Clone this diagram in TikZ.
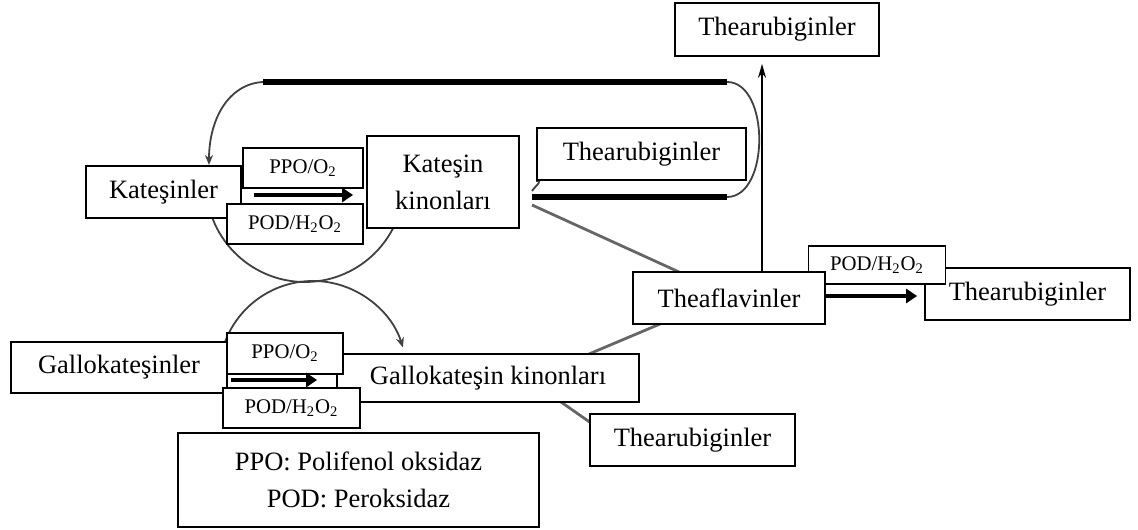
\documentclass[tikz,border=0pt]{standalone}
\usepackage{fontspec}
\setmainfont{Liberation Serif}
\usepackage{xcolor}
\usepackage{tikz}
\usetikzlibrary{arrows.meta, backgrounds}

\begin{document}
\begin{tikzpicture}[x=0.5pt, y=0.5pt,
    box/.style={draw, line width=0.9pt, fill=white, inner sep=0pt, align=center, font=\fontsize{13.25}{18.5}\selectfont},
    tag/.style={draw, line width=0.9pt, fill=white, inner sep=0pt, font=\fontsize{10.4}{12}\selectfont},
    loopline/.style={draw=black!75, line width=0.9pt},
    greyline/.style={draw=black!60, line width=1.4pt},
    fatline/.style={line width=2.6pt},
    fatarrow/.style={line width=2.4pt, -{Triangle[length=5.5pt,width=7pt]}}]
    \useasboundingbox (0,0) rectangle (1138,529);
    % Boxes
    \node[box, minimum width=102pt, minimum height=26.5pt] (topT) at (777,499.5) {Thearubiginler};
    \node[box, minimum width=77.5pt, minimum height=26pt] (kat) at (163.5,337) {Kateşinler};
    \node[tag, minimum width=68pt, minimum height=20pt] (pod1) at (295,305) {POD/H\textsubscript{2}O\textsubscript{2}};
    \node[tag, minimum width=60pt, minimum height=20pt] (ppo1) at (303,361) {PPO/O\textsubscript{2}};
    \node[box, minimum width=76pt, minimum height=46pt] (katk) at (443,347) {Kateşin\\kinonları};
    \node[box, minimum width=104.5pt, minimum height=26pt] (midT) at (641.5,375) {Thearubiginler};
    \node[box, minimum width=102.5pt, minimum height=26pt] (rightT) at (1027.5,235) {Thearubiginler};
    \node[tag, minimum width=68.5pt, minimum height=19pt] (pod3) at (877,264) {POD/H\textsubscript{2}O\textsubscript{2}};
    \node[box, minimum width=96pt, minimum height=26pt] (thf) at (729,231) {Theaflavinler};
    \node[box, minimum width=108pt, minimum height=25.5pt] (gal) at (119,161.5) {Gallokateşinler};
    \node[box, minimum width=151pt, minimum height=24pt] (galk) at (488,151) {Gallokateşin kinonları};
    \node[tag, minimum width=58pt, minimum height=20.5pt] (ppo2) at (285,175.5) {PPO/O\textsubscript{2}};
    \node[tag, minimum width=68.5pt, minimum height=20pt] (pod2) at (291.5,121) {POD/H\textsubscript{2}O\textsubscript{2}};
    \node[box, minimum width=102.5pt, minimum height=26pt] (botT) at (692.5,89) {Thearubiginler};
    % Legend
    \node[box, minimum width=180.5pt, minimum height=47pt] (leg) at (358.5,49) {PPO: Polifenol oksidaz\\POD: Peroksidaz};

    \coordinate (up) at (762,466);
    \coordinate (k1) at (532,324);
    \coordinate (t1) at (679,257);
    \coordinate (g1) at (589,175);
    \coordinate (t2) at (660,205);
    \coordinate (g2) at (561,127);
    \coordinate (b1) at (591,106);

    \begin{scope}[on background layer]
        % loops
        \draw[loopline, -{Stealth[length=5pt,width=4pt]}] (263,447) .. controls (228,445) and (209,409) .. (209,364);
        \draw[loopline] (305,346) ++(190:49.5pt) arc[start angle=190, end angle=335, radius=49.5pt];
        \draw[loopline, -{Stealth[length=5pt,width=4pt]}] (313,154) ++(162:47pt) arc[start angle=162, end angle=17, radius=47pt];
        \draw[fatline] (263,447) -- (727,447);
        \draw[loopline] (727,447) .. controls (770,447) and (770,332) .. (727,332);
        \draw[fatline] (727,332) -- (532,332);
        \draw[loopline] (532,338) .. controls (537,345) and (543,348) .. (midT.south west);
        % to Theaflavinler
        \draw[greyline] (k1) -- (t1);
        \draw[greyline] (g1) -- (t2);
        \draw[greyline] (g2) -- (b1);
    \end{scope}

    % Arrows
    \draw[fatarrow, shorten <=6pt, shorten >=6.5pt] ([yshift=-1.5pt]kat.east) -- ([yshift=-1.5pt]kat.east -| katk.west);
    \draw[fatarrow, shorten <=1.5pt, shorten >=9.5pt] ([yshift=-6.25pt]gal.east) -- ([yshift=-6.25pt]gal.east -| galk.west);
    \draw[fatarrow, shorten >=3.5pt] ([yshift=1pt]thf.east) -- ([yshift=1pt]thf.east -| rightT.west);
    \draw[line width=1pt, -{Stealth[length=7pt,width=4pt]}, shorten >=3.5pt] (thf.north -| up) -- (topT.south -| up);
\end{tikzpicture}
\end{document}
